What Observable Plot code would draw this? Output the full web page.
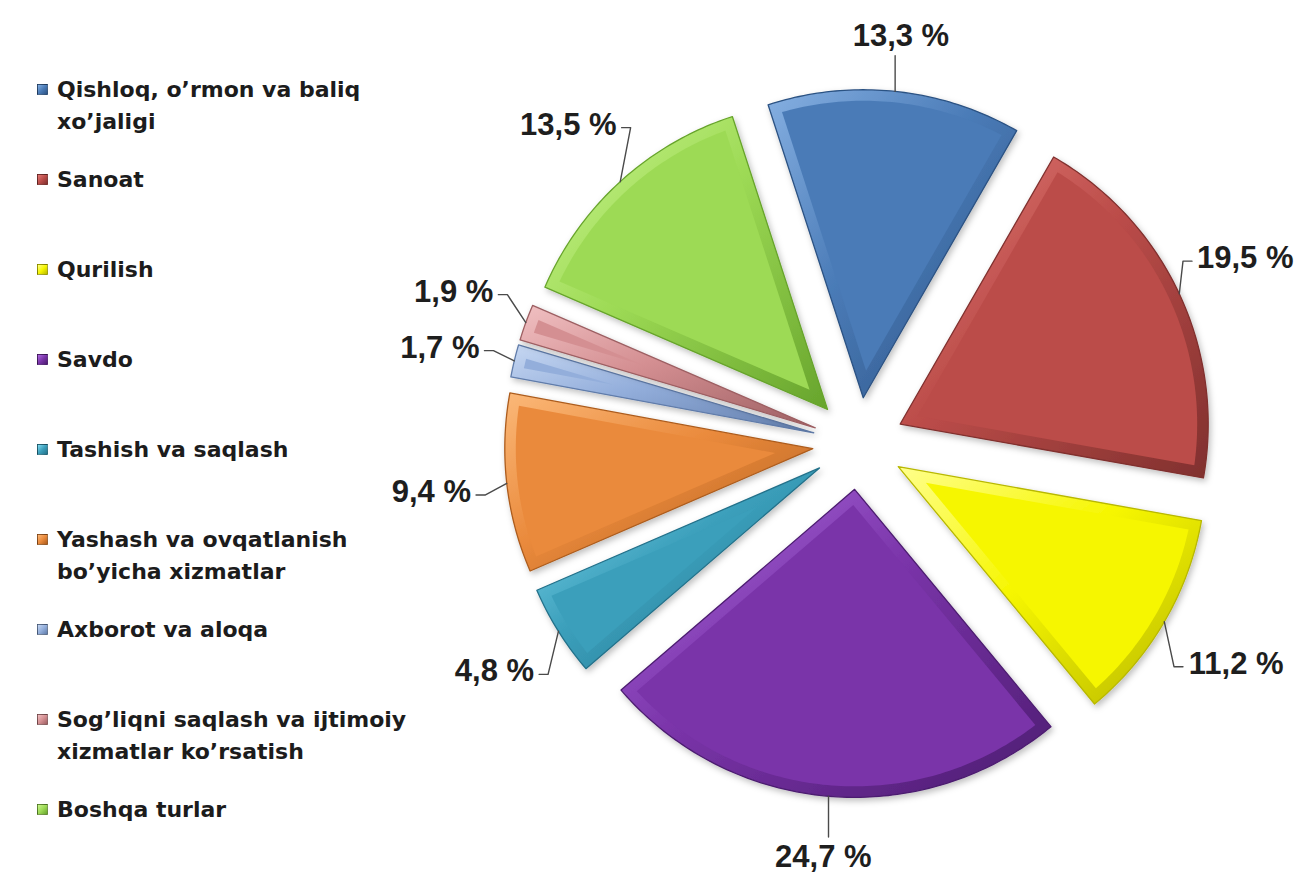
<!DOCTYPE html>
<html><head><meta charset="utf-8">
<script src="https://cdn.jsdelivr.net/npm/d3@7"></script>
<script src="https://cdn.jsdelivr.net/npm/@observablehq/plot@0.6"></script>
<style>
html,body{margin:0;padding:0;background:#fff;}
#wrap{position:relative;width:1298px;height:886px;overflow:hidden;background:#fff;}
#chart{position:absolute;left:0;top:0;}
#legend{position:absolute;left:0;top:0;width:430px;height:886px;font-family:"DejaVu Sans",Verdana,sans-serif;font-weight:bold;font-size:22px;color:#1c1c1c;}
.item{position:absolute;left:0;line-height:32px;}
.sw{position:absolute;left:37px;top:10px;width:11px;height:11px;box-sizing:border-box;border:1px solid rgba(0,0,0,0.35);}
.txt{position:absolute;left:57px;top:0;white-space:nowrap;}
</style></head>
<body><div id="wrap"><div id="chart"></div><div id="legend"></div></div>
<script>
// ---- data ----
const categories = [
  "Qishloq, o’rmon va baliq\nxo’jaligi",
  "Sanoat",
  "Qurilish",
  "Savdo",
  "Tashish va saqlash",
  "Yashash va  ovqatlanish\nbo’yicha xizmatlar",
  "Axborot va aloqa",
  "Sog’liqni saqlash va ijtimoiy\nxizmatlar ko’rsatish",
  "Boshqa turlar"
];
const shares = [13.3, 19.5, 11.2, 24.7, 4.8, 9.4, 1.7, 1.9, 13.5];
const valueLabels = ["13,3 %", "19,5 %", "11,2 %", "24,7 %", "4,8 %", "9,4 %", "1,7 %", "1,9 %", "13,5 %"];

// ---- styles ----
const mainColors  = ["#4a7bb7", "#bb4c49", "#f6f600", "#7a34a9", "#3b9fbb", "#ea8a3c", "#93aedb", "#d48f92", "#9dda55"];
const lightColors = ["#86b0e2", "#e27a76", "#ffff8c", "#ad6be0", "#86dcf2", "#fbb878", "#c6d7f2", "#f0c0c2", "#caf58f"];
const darkColors  = ["#2c5283", "#80302e", "#b8b800", "#4c1c70", "#23718a", "#ad5c1c", "#607caa", "#9d5f62", "#67a42c"];

// ---- layout ----
const W = 1298, H = 886;
const CX = 858, CY = 443, R = 308, EXPLODE = 46, BEVEL = 11;
const START = -18 * Math.PI / 180;
const LABEL_FONT = 31;

const dir = t => [Math.sin(t), -Math.cos(t)];
const arcs = d3.pie().sort(null).value(d => d).startAngle(START).endAngle(START + 2 * Math.PI)(shares);

const slices = arcs.map((a, i) => {
  const a0 = a.startAngle, a1 = a.endAngle, mid = (a0 + a1) / 2;
  const u = dir(mid);
  const tip = [CX + EXPLODE * u[0], CY + EXPLODE * u[1]];
  const n = Math.max(6, Math.ceil((a1 - a0) / 0.015));
  const outer = [{x: tip[0], y: tip[1]}];
  for (let k = 0; k <= n; k++) {
    const t = a0 + (a1 - a0) * k / n, v = dir(t);
    outer.push({x: tip[0] + R * v[0], y: tip[1] + R * v[1]});
  }
  let inner = null;
  const half = (a1 - a0) / 2;
  const d = BEVEL / Math.sin(half);
  const rr = R - BEVEL;
  if (d < rr - 25) {
    const T2 = [tip[0] + d * u[0], tip[1] + d * u[1]];
    const uv = Math.cos(half);
    const s = -d * uv + Math.sqrt(d * d * uv * uv - d * d + rr * rr);
    const v0 = dir(a0), v1 = dir(a1);
    const P0 = [T2[0] + s * v0[0], T2[1] + s * v0[1]];
    const P1 = [T2[0] + s * v1[0], T2[1] + s * v1[1]];
    const ang = P => Math.atan2(P[0] - tip[0], -(P[1] - tip[1]));
    let f0 = ang(P0), f1 = ang(P1);
    while (f1 < f0) f1 += 2 * Math.PI;
    inner = [{x: T2[0], y: T2[1]}];
    const m = Math.max(6, Math.ceil((f1 - f0) / 0.015));
    for (let k = 0; k <= m; k++) {
      const t = f0 + (f1 - f0) * k / m, v = dir(t);
      inner.push({x: tip[0] + rr * v[0], y: tip[1] + rr * v[1]});
    }
  }
  return {i, a0, a1, mid, u, tip, outer, inner};
});

// ---- label placement ----
const charW = {"0":.556,"1":.556,"2":.556,"3":.556,"4":.556,"5":.556,"6":.556,"7":.556,"8":.556,"9":.556,",":.278," ":.278,"%":.889};
const textWidth = s => [...s].reduce((acc, c) => acc + (charW[c] || .556), 0) * LABEL_FONT;
const labels = slices.map(s => {
  const u = s.u, txt = valueLabels[s.i];
  const hw = textWidth(txt) / 2, hh = 13;
  const vertical = Math.abs(u[0]) < 0.35;
  const gap = vertical ? (u[1] < 0 ? 38 : 44) : 35;
  const D = EXPLODE + R + gap + Math.abs(u[0]) * hw + Math.abs(u[1]) * hh;
  let x = CX + D * u[0], y = CY + D * u[1];
  x = Math.max(hw + 4, Math.min(W - hw - 5, x));
  return {i: s.i, u, x, y, hw, hh, vertical, text: txt};
});
// spread side labels that sit too close vertically
[-1, 1].forEach(side => {
  const group = labels.filter(l => !l.vertical && Math.sign(l.u[0]) === side).sort((a, b) => a.y - b.y);
  for (let it = 0; it < 20; it++) {
    for (let k = 1; k < group.length; k++) {
      const a = group[k - 1], b = group[k], minGap = 56;
      if (b.y - a.y < minGap) {
        const push = (minGap - (b.y - a.y)) / 2;
        a.y -= push; b.y += push;
      }
    }
  }
});
const leaders = [];
labels.forEach(l => {
  const u = l.u;
  const p0 = [CX + (EXPLODE + R) * u[0], CY + (EXPLODE + R) * u[1]];
  if (l.vertical) {
    const end = [p0[0] + (l.x - p0[0]) * 0.0, l.y - Math.sign(u[1]) * (l.hh + 7)];
    leaders.push({id: l.i, x: p0[0], y: p0[1]}, {id: l.i, x: end[0], y: end[1]});
  } else {
    const sg = Math.sign(u[0]);
    const p2 = [l.x - sg * (l.hw + 5), l.y + 3];
    const p1 = [p2[0] - sg * 9, p2[1]];
    leaders.push({id: l.i, x: p0[0], y: p0[1]}, {id: l.i, x: p1[0], y: p1[1]}, {id: l.i, x: p2[0], y: p2[1]});
  }
});

// gradient defs as a function mark
const defsMark = () => {
  const ns = "http://www.w3.org/2000/svg";
  const defs = document.createElementNS(ns, "defs");
  mainColors.forEach((c, i) => {
    const lg = document.createElementNS(ns, "linearGradient");
    lg.setAttribute("id", "g" + i);
    lg.setAttribute("x1", "0"); lg.setAttribute("y1", "0");
    lg.setAttribute("x2", "1"); lg.setAttribute("y2", "1");
    [[0, lightColors[i]], [0.45, c], [1, darkColors[i]]].forEach(([o, col]) => {
      const st = document.createElementNS(ns, "stop");
      st.setAttribute("offset", o);
      st.setAttribute("stop-color", col);
      lg.appendChild(st);
    });
    defs.appendChild(lg);
  });
  const f = document.createElementNS(ns, "filter");
  f.setAttribute("id", "shadow");
  f.setAttribute("x", "-10%"); f.setAttribute("y", "-10%");
  f.setAttribute("width", "130%"); f.setAttribute("height", "130%");
  f.innerHTML = '<feDropShadow dx="2" dy="3" stdDeviation="3" flood-color="#000" flood-opacity="0.25"/>';
  defs.appendChild(f);
  return defs;
};

const marks = [defsMark];
slices.forEach(s => {
  marks.push(Plot.line(s.outer, {x: "x", y: "y", curve: "linear-closed", fill: `url(#g${s.i})`, stroke: darkColors[s.i], strokeWidth: 1.3}));
  if (s.inner) marks.push(Plot.line(s.inner, {x: "x", y: "y", curve: "linear-closed", fill: mainColors[s.i], stroke: "none"}));
});
marks.push(Plot.line(leaders, {x: "x", y: "y", z: "id", stroke: "#4a4a4a", strokeWidth: 1.4}));
marks.push(Plot.text(labels, {x: "x", y: "y", text: "text", fontSize: LABEL_FONT, fontWeight: "bold", fontFamily: "Liberation Sans, Arial, sans-serif", fill: "#1e1e1e", textAnchor: "middle", lineAnchor: "middle"}));

const svg = Plot.plot({
  width: W, height: H, margin: 0,
  x: {domain: [0, W], range: [0, W], axis: null},
  y: {domain: [0, H], range: [0, H], axis: null},
  style: {background: "transparent", overflow: "visible"},
  marks
});
d3.select(svg).selectAll("g[fill^='url(#g']").attr("filter", "url(#shadow)");
document.getElementById("chart").appendChild(svg);

// legend
const legend = document.getElementById("legend");
categories.forEach((c, i) => {
  const item = document.createElement("div");
  item.className = "item";
  item.style.top = (90 + 90 * i - 16) + "px";
  const sw = document.createElement("div");
  sw.className = "sw";
  sw.style.background = `linear-gradient(135deg, ${lightColors[i]}, ${mainColors[i]} 50%, ${darkColors[i]})`;
  const tx = document.createElement("div");
  tx.className = "txt";
  tx.innerHTML = c.split("\n").join("<br>");
  item.appendChild(sw); item.appendChild(tx);
  legend.appendChild(item);
});
</script>
</body></html>
